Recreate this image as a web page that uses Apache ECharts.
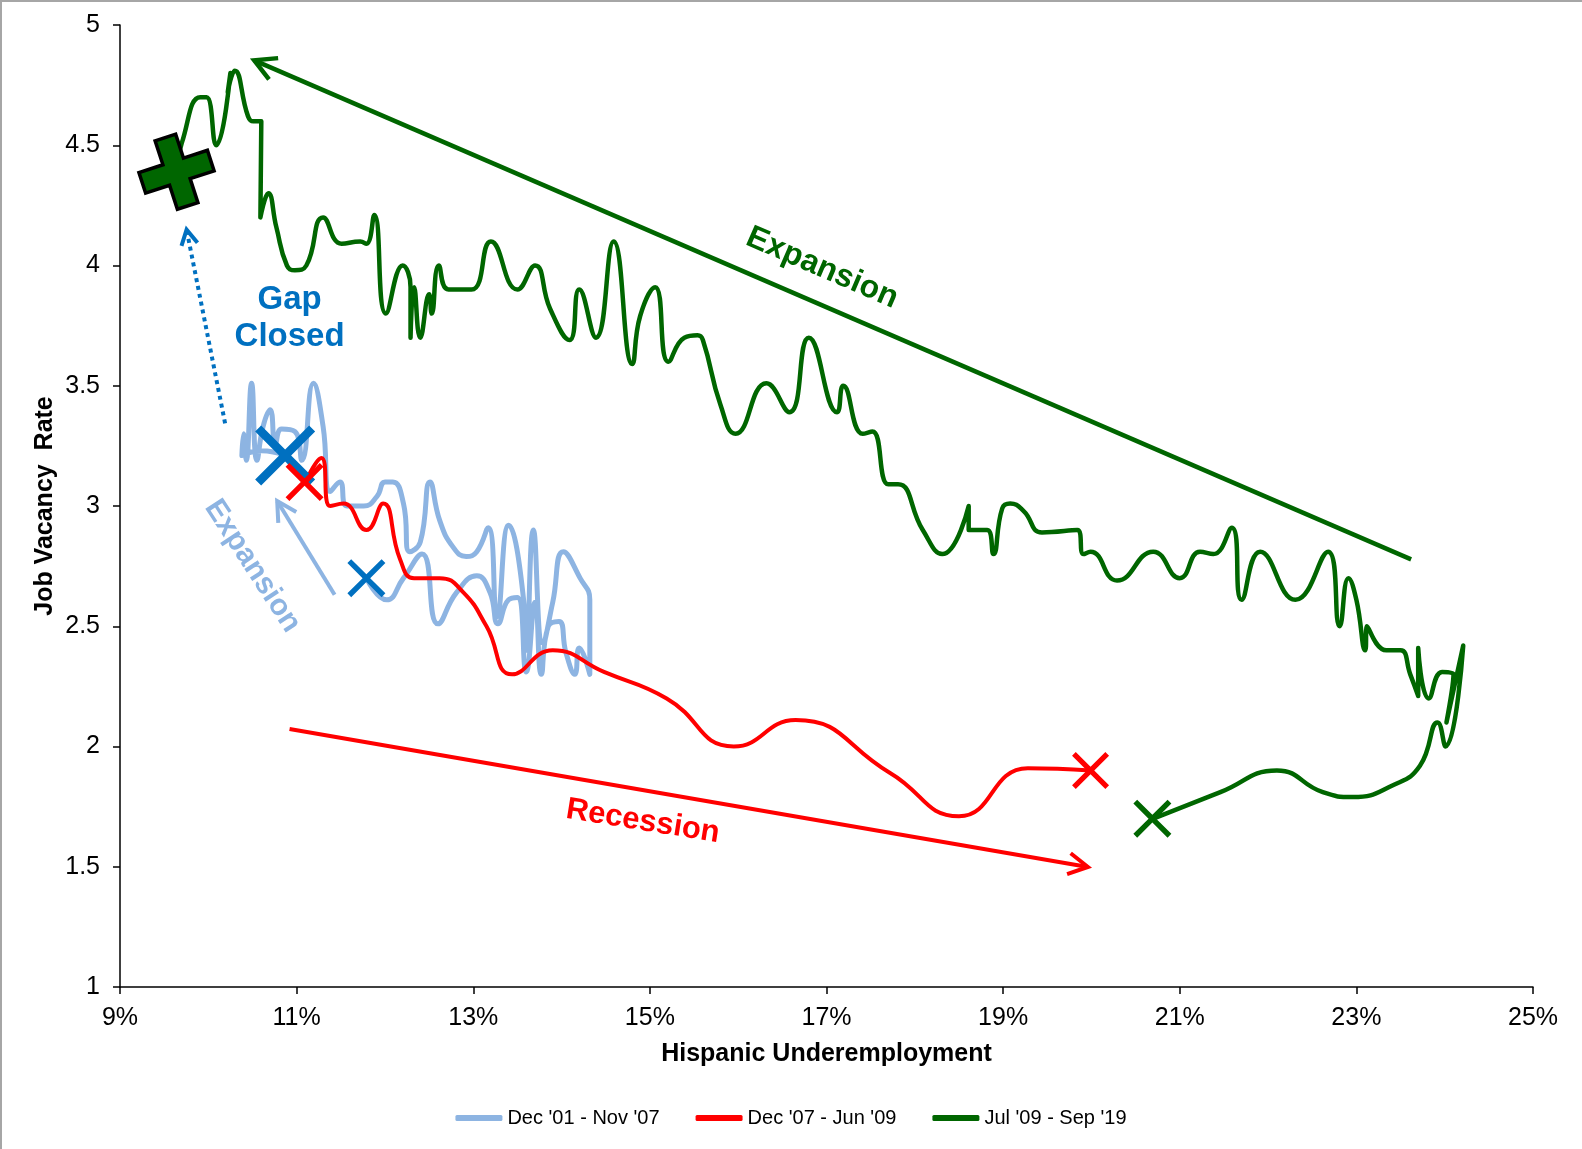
<!DOCTYPE html>
<html>
<head>
<meta charset="utf-8">
<script src="https://cdn.jsdelivr.net/npm/echarts@6/dist/echarts.min.js"></script>
<style>
  html, body { margin: 0; padding: 0; background: #fff; }
  #chart { width: 1582px; height: 1149px; }
</style>
</head>
<body>
<div id="chart"></div>
<script>
// x = Hispanic underemployment (%), y = job vacancy rate
const seriesNames = ["Dec '01 - Nov '07", "Dec '07 - Jun '09", "Jul '09 - Sep '19"];

const path0107 = [
  [11.79, 2.70], [12.02, 2.61], [12.21, 2.70], [12.42, 2.80], [12.60, 2.51], [12.81, 2.64],
  [13.04, 2.71], [13.19, 2.64], [13.28, 2.51], [13.40, 2.61], [13.50, 2.62], [13.60, 2.31],
  [13.70, 2.60], [13.77, 2.30], [13.85, 2.50], [13.97, 2.52], [14.05, 2.39], [14.15, 2.30],
  [14.20, 2.41], [14.32, 2.30], [14.32, 2.61], [14.21, 2.70], [14.02, 2.81], [13.90, 2.60],
  [13.79, 2.43], [13.68, 2.90], [13.60, 2.40], [13.57, 2.61], [13.40, 2.92], [13.27, 2.54],
  [13.17, 2.91], [13.04, 2.81], [12.92, 2.79], [12.77, 2.83], [12.62, 2.94], [12.51, 3.10],
  [12.40, 2.85], [12.28, 2.81], [12.21, 3.01], [12.09, 3.10], [12.00, 3.10], [11.91, 3.04],
  [11.76, 3.00], [11.57, 3.00], [11.49, 3.10], [11.38, 3.06], [11.30, 3.33], [11.19, 3.51],
  [11.06, 3.19], [10.98, 3.31], [10.83, 3.32], [10.76, 3.26], [10.70, 3.40], [10.62, 3.33],
  [10.55, 3.19], [10.49, 3.51], [10.43, 3.19], [10.40, 3.30], [10.38, 3.21], [10.60, 3.23],
  [10.87, 3.21]
];

const path0709 = [
  [11.10, 3.10], [11.28, 3.20], [11.38, 3.00], [11.53, 3.01], [11.79, 2.90], [11.98, 3.01],
  [12.17, 2.78], [12.33, 2.70], [12.62, 2.70], [12.89, 2.64], [13.15, 2.50], [13.44, 2.30],
  [13.90, 2.40], [14.48, 2.31], [15.19, 2.20], [15.95, 2.00], [16.65, 2.11], [17.72, 1.89],
  [18.50, 1.71], [19.28, 1.91], [19.99, 1.90]
];

const path0919 = [
  [20.70, 1.70], [21.46, 1.81], [22.10, 1.90], [22.62, 1.81], [22.96, 1.79], [23.42, 1.84],
  [23.72, 1.92], [23.92, 2.10], [24.01, 2.00], [24.21, 2.42], [24.02, 2.10], [24.10, 2.30],
  [23.97, 2.31], [23.82, 2.20], [23.70, 2.41], [23.70, 2.21], [23.61, 2.30], [23.50, 2.40],
  [23.34, 2.40], [23.12, 2.50], [23.10, 2.40], [23.00, 2.61], [22.91, 2.70], [22.81, 2.50],
  [22.68, 2.81], [22.31, 2.61], [21.91, 2.81], [21.70, 2.61], [21.59, 2.91], [21.38, 2.80],
  [21.23, 2.81], [21.00, 2.70], [20.70, 2.81], [20.29, 2.69], [19.99, 2.81], [19.91, 2.80],
  [19.84, 2.90], [19.44, 2.89], [19.23, 2.98], [19.08, 3.01], [18.99, 2.99], [18.89, 2.80],
  [18.82, 2.90], [18.61, 2.90], [18.61, 3.00], [18.31, 2.80], [18.09, 2.90], [17.81, 3.09],
  [17.70, 3.09], [17.52, 3.31], [17.41, 3.30], [17.19, 3.50], [17.12, 3.39], [16.80, 3.70],
  [16.58, 3.39], [16.32, 3.51], [15.97, 3.30], [15.80, 3.42], [15.60, 3.69], [15.54, 3.71],
  [15.39, 3.70], [15.21, 3.60], [15.06, 3.91], [14.89, 3.79], [14.80, 3.59], [14.59, 4.10],
  [14.39, 3.70], [14.20, 3.90], [14.09, 3.69], [13.87, 3.82], [13.70, 4.00], [13.50, 3.90],
  [13.20, 4.10], [12.98, 3.90], [12.72, 3.90], [12.61, 4.00], [12.53, 3.80], [12.50, 3.88],
  [12.40, 3.70], [12.33, 3.91], [12.29, 3.70], [12.29, 3.91], [12.20, 4.00], [12.01, 3.80],
  [11.88, 4.21], [11.79, 4.09], [11.72, 4.10], [11.51, 4.09], [11.30, 4.20], [11.11, 4.00],
  [10.98, 3.98], [10.89, 4.00], [10.77, 4.16], [10.68, 4.30], [10.59, 4.20], [10.60, 4.60],
  [10.51, 4.60], [10.45, 4.62], [10.30, 4.81], [10.22, 4.72], [10.25, 4.80], [10.09, 4.50],
  [9.98, 4.70], [9.91, 4.70], [9.70, 4.51], [9.64, 4.40]
];

// start / end markers
const blueStart = [11.79, 2.70];
const blueEnd = [10.87, 3.21];
const redStart = [11.09, 3.10];
const redEnd = [19.99, 1.90];
const greenStart = [20.69, 1.70];
const greenEnd = [9.64, 4.39];

// annotation arrows: tail x, tail y, head x, head y
const arrowGreen = [23.62, 2.778, 10.52, 4.853];
const arrowRed = [10.92, 2.073, 19.96, 1.499];
const arrowLightBlue = [11.43, 2.631, 10.78, 3.021];
const arrowGap = [10.19, 3.344, 9.754, 4.149];

// annotation texts
const noteGreenText = "Expansion";
const noteGreenPos = [16.95, 3.99];
const noteRedText = "Recession";
const noteRedPos = [14.92, 1.688];
const noteBlueText = "Expansion";
const noteBluePos = [10.50, 2.75];
const noteGapText = "Gap\nClosed";
const noteGapPos = [10.92, 3.78];

const xTicks = [9, 11, 13, 15, 17, 19, 21, 23, 25];

const FONT = 'Arial, "Liberation Sans", sans-serif';
const LIGHT_BLUE = "#8DB4E2";
const BLUE = "#0070C0";
const RED = "#FF0000";
const GREEN = "#006600";

const X_PATH = "path://M0,10 L10,0 L50,40 L90,0 L100,10 L60,50 L100,90 L90,100 L50,60 L10,100 L0,90 L40,50 Z";
const PLUS_PATH = "path://M35,0 L65,0 L65,35 L100,35 L100,65 L65,65 L65,100 L35,100 L35,65 L0,65 L0,35 L35,35 Z";

function arrowSeries(arrow, color, width, dash, head) {
  return {
    type: "custom",
    silent: true,
    clip: false,
    z: 4,
    data: [arrow],
    renderItem(params, api) {
      const a = api.coord([api.value(0), api.value(1)]);
      const b = api.coord([api.value(2), api.value(3)]);
      const ang = Math.atan2(b[1] - a[1], b[0] - a[0]);
      const spread = 0.5;
      const h1 = [b[0] - head * Math.cos(ang - spread), b[1] - head * Math.sin(ang - spread)];
      const h2 = [b[0] - head * Math.cos(ang + spread), b[1] - head * Math.sin(ang + spread)];
      return {
        type: "group",
        children: [
          {
            type: "line",
            shape: { x1: a[0], y1: a[1], x2: b[0], y2: b[1] },
            style: { stroke: color, lineWidth: width, lineDash: dash, lineCap: "butt" }
          },
          {
            type: "polyline",
            shape: { points: [h1, b, h2] },
            style: { stroke: color, lineWidth: width, fill: null }
          }
        ]
      };
    }
  };
}

function textSeries(pos, text, color, size, rotateDeg) {
  return {
    type: "custom",
    silent: true,
    clip: false,
    z: 5,
    data: [pos],
    renderItem(params, api) {
      const p = api.coord([api.value(0), api.value(1)]);
      return {
        type: "text",
        x: p[0],
        y: p[1],
        rotation: rotateDeg * Math.PI / 180,
        style: {
          text: text,
          fill: color,
          font: "bold " + size + "px " + FONT,
          align: "center",
          verticalAlign: "middle",
          lineHeight: size + 4
        }
      };
    }
  };
}

function markerSeries(point, symbol, size, color, extra) {
  return Object.assign({
    type: "scatter",
    silent: true,
    z: 6,
    symbol: symbol,
    symbolSize: size,
    itemStyle: { color: color, opacity: 1 },
    data: [point]
  }, extra || {});
}

function lineSeries(name, data, color, width) {
  return {
    name: name,
    type: "line",
    data: data,
    smooth: 0.5,
    showSymbol: false,
    symbol: "none",
    z: 3,
    itemStyle: { color: color },
    lineStyle: { color: color, width: width, cap: "round", join: "round" }
  };
}

const chart = echarts.init(document.getElementById("chart"));
chart.setOption({
  animation: false,
  graphic: [{
    type: "rect",
    shape: { x: 1, y: 1, width: 1700, height: 1300 },
    style: { fill: null, stroke: "#a6a6a6", lineWidth: 2 },
    silent: true
  }],
  grid: { left: 120, right: 49, top: 25, bottom: 162, containLabel: false },
  legend: {
    data: seriesNames,
    left: "center",
    top: 1103,
    icon: "roundRect",
    itemWidth: 47,
    itemHeight: 6,
    itemGap: 36,
    textStyle: { fontFamily: '"Liberation Sans Narrow", "Arial Narrow", sans-serif', fontSize: 20, color: "#000" }
  },
  xAxis: {
    type: "value",
    min: 9,
    max: 25,
    name: "Hispanic Underemployment",
    nameLocation: "middle",
    nameGap: 55,
    nameMoveOverlap: false,
    nameTextStyle: { fontFamily: FONT, fontWeight: "bold", fontSize: 25, color: "#000" },
    splitLine: { show: false },
    axisLine: { onZero: false, lineStyle: { color: "#000", width: 1.5 } },
    axisTick: { show: true, length: 7, inside: false, customValues: xTicks, lineStyle: { color: "#000", width: 1.5 } },
    axisLabel: {
      customValues: xTicks,
      formatter: "{value}%",
      margin: 19,
      fontFamily: FONT,
      fontSize: 25,
      color: "#000"
    }
  },
  yAxis: {
    type: "value",
    min: 1,
    max: 5,
    interval: 0.5,
    name: "Job Vacancy  Rate",
    nameLocation: "middle",
    nameGap: 62,
    nameMoveOverlap: false,
    nameRotate: 90,
    nameTextStyle: { fontFamily: FONT, fontWeight: "bold", fontSize: 25, color: "#000" },
    splitLine: { show: false },
    axisLine: { show: true, onZero: false, lineStyle: { color: "#000", width: 1.5 } },
    axisTick: { show: true, length: 7, inside: false, lineStyle: { color: "#000", width: 1.5 } },
    axisLabel: { margin: 20, fontFamily: FONT, fontSize: 25, color: "#000" }
  },
  series: [
    lineSeries(seriesNames[0], path0107, LIGHT_BLUE, 5),
    lineSeries(seriesNames[1], path0709, RED, 4),
    lineSeries(seriesNames[2], path0919, GREEN, 4.5),

    arrowSeries(arrowGreen, GREEN, 4.5, null, 24),
    arrowSeries(arrowRed, RED, 4, null, 22),
    arrowSeries(arrowLightBlue, LIGHT_BLUE, 4, null, 22),
    arrowSeries(arrowGap, BLUE, 4, [4, 4], 17),

    textSeries(noteGreenPos, noteGreenText, GREEN, 32, -23.4),
    textSeries(noteRedPos, noteRedText, RED, 31, -9),
    textSeries(noteBluePos, noteBlueText, LIGHT_BLUE, 30, -57),
    textSeries(noteGapPos, noteGapText, BLUE, 33, 0),

    markerSeries(blueStart, X_PATH, 38, BLUE),
    markerSeries(blueEnd, X_PATH, 60, BLUE),
    markerSeries(redStart, X_PATH, 38, RED),
    markerSeries(redEnd, X_PATH, 37, RED),
    markerSeries(greenStart, X_PATH, 38, GREEN),
    markerSeries(greenEnd, PLUS_PATH, 72, GREEN, {
      symbolRotate: 18,
      itemStyle: { color: GREEN, borderColor: "#000", borderWidth: 3.5, opacity: 1 }
    })
  ]
});
</script>
</body>
</html>
